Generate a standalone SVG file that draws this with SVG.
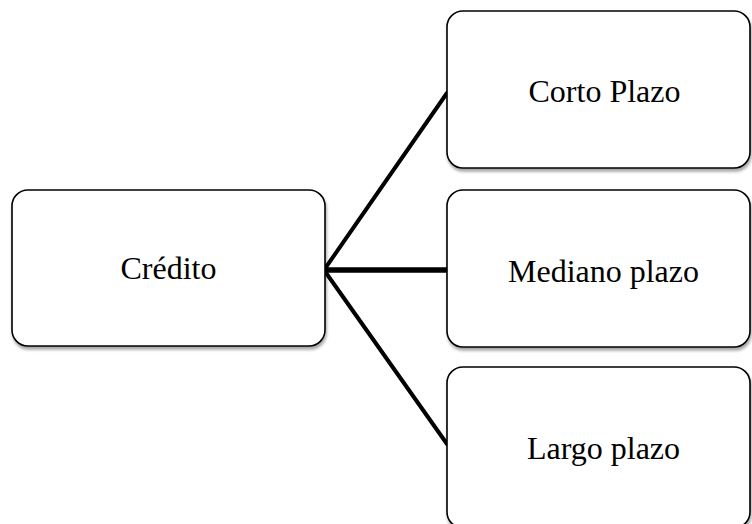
<svg xmlns="http://www.w3.org/2000/svg" width="752" height="524" viewBox="0 0 752 524">
  <style>
    .box { fill: #ffffff; stroke: #000000; stroke-width: 1.6; filter: url(#shadow); }
    .label { font-family: "Liberation Serif", "Times New Roman", serif; font-size: 32px; fill: #000000; }
    .link { stroke: #000000; fill: none; stroke-linecap: round; }
  </style>
  <defs>
    <filter id="shadow" x="-10%" y="-10%" width="125%" height="125%">
      <feGaussianBlur in="SourceAlpha" stdDeviation="1.5"/>
      <feOffset dx="1" dy="2.5" result="off"/>
      <feComponentTransfer><feFuncA type="linear" slope="0.35"/></feComponentTransfer>
      <feMerge><feMergeNode/><feMergeNode in="SourceGraphic"/></feMerge>
    </filter>
  </defs>
  <rect width="752" height="524" fill="#ffffff"/>

  <g id="connectors">
    <line class="link" x1="324" y1="270" x2="447" y2="93" stroke-width="4"/>
    <line class="link" x1="324" y1="270" x2="447" y2="270" stroke-width="5.5"/>
    <line class="link" x1="324" y1="270" x2="447" y2="444" stroke-width="4"/>
  </g>

  <g id="credito">
    <rect class="box" x="12" y="190" width="313" height="156" rx="16"/>
    <text class="label" x="168.5" y="279" text-anchor="middle">Crédito</text>
  </g>

  <g id="corto-plazo">
    <rect class="box" x="447" y="11" width="303" height="157" rx="16"/>
    <text class="label" x="604.5" y="102" text-anchor="middle">Corto Plazo</text>
  </g>

  <g id="mediano-plazo">
    <rect class="box" x="447" y="190" width="303" height="157" rx="16"/>
    <text class="label" x="603.5" y="282" text-anchor="middle">Mediano plazo</text>
  </g>

  <g id="largo-plazo">
    <rect class="box" x="447" y="367" width="303" height="161" rx="16"/>
    <text class="label" x="603.5" y="459" text-anchor="middle">Largo plazo</text>
  </g>
</svg>
